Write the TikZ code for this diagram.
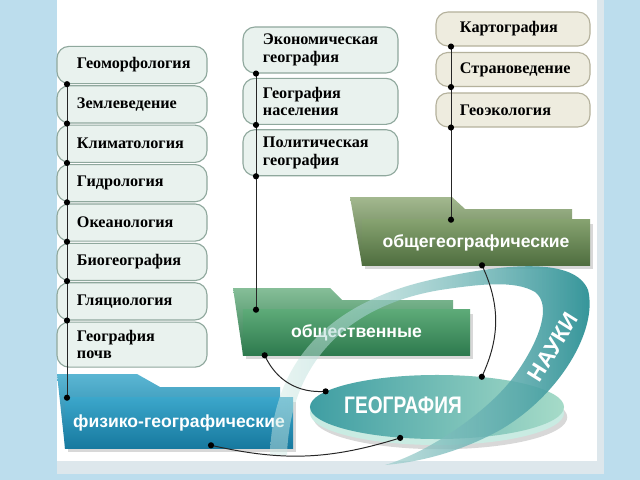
\documentclass[tikz,border=0pt]{standalone}
\usepackage{fontspec}
\setmainfont{Liberation Serif}
\newfontfamily\headsans{Liberation Sans}
\newfontfamily\narrowsans[FakeStretch=0.8]{Liberation Sans}
\usepackage{tikz}
\usetikzlibrary{positioning,shapes.geometric,shadows,fadings}
\definecolor{bandblue}{HTML}{BCDDED}
\definecolor{panelgray}{HTML}{DDE7EC}
\definecolor{mintfill}{HTML}{E9F2EE}
\definecolor{mintdraw}{HTML}{8FA89D}
\definecolor{sandfill}{HTML}{EEECDF}
\definecolor{sanddraw}{HTML}{B4B19C}
\definecolor{olivetop}{HTML}{86A270}
\definecolor{olivebot}{HTML}{4F6E3F}
\definecolor{oliveback}{HTML}{A3B88F}
\definecolor{greentop}{HTML}{5DAA78}
\definecolor{greenbot}{HTML}{2E7A4E}
\definecolor{greenback}{HTML}{86BE98}
\definecolor{bluetop}{HTML}{3BA6CA}
\definecolor{bluebot}{HTML}{17799F}
\definecolor{blueback}{HTML}{5BB6D3}
\definecolor{geoleft}{HTML}{3F9EA3}
\definecolor{georight}{HTML}{A6DBC8}
\definecolor{georim}{HTML}{C9EBE2}
\definecolor{ribbonpale}{HTML}{D3ECE6}
\definecolor{ribbondark}{HTML}{2F9297}
\tikzfading[name=ribbonfade, left color=transparent!55, right color=transparent!0]
\tikzset{
    topic/.style={
        rectangle,
        rounded corners=0.3cm,
        draw=mintdraw,
        fill=mintfill,
        line width=0.8pt,
        font=\fontsize{11.5}{12.5}\selectfont\bfseries,
        align=left,
        inner ysep=1pt
    },
    left topic/.style={topic, minimum width=3.75cm, minimum height=0.93cm, text width=2.75cm, inner xsep=0.5cm},
    mid topic/.style={topic, minimum width=3.875cm, minimum height=1.15cm, text width=2.875cm, inner xsep=0.5cm},
    right topic/.style={topic, draw=sanddraw, fill=sandfill, minimum width=3.85cm, minimum height=0.85cm, text width=2.65cm, inner xsep=0.6cm},
    folder/.style={
        rectangle,
        minimum width=5.7cm,
        minimum height=1.125cm,
        text=white,
        font=\headsans\bfseries\fontsize{12.5}{13}\selectfont,
        drop shadow={shadow xshift=2pt, shadow yshift=-3pt, opacity=0.3}
    },
    link/.style={draw=black!85, line width=0.7pt}
}

\begin{document}
\begin{tikzpicture}[x=0.025cm, y=-0.025cm]
\useasboundingbox (0,0) rectangle (640,480);
\fill[bandblue] (0,0) rectangle (640,480);
\fill[panelgray] (57,0) rectangle (604,474);
\fill[white] (57,0) rectangle (597,461);

\node (geomorf) [left topic] at (132,65) {Геоморфология};
\node (zemlev) [left topic, below=0.75pt of geomorf] {Землеведение};
\node (klimat) [left topic, below=0.75pt of zemlev] {Климатология};
\node (gidro) [left topic, below=0.75pt of klimat] {Гидрология};
\node (okean) [left topic, below=0.75pt of gidro] {Океанология};
\node (biogeo) [left topic, below=0.75pt of okean] {Биогеография};
\node (glyac) [left topic, below=0.75pt of biogeo] {Гляциология};
\node (pochv) [left topic, below=0.75pt of glyac, minimum height=1.125cm] {География\\почв};

\node (ekon) [mid topic] at (320.5,50) {Экономическая\\география};
\node (naselen) [mid topic, below=3pt of ekon] {География\\населения};
\node (polit) [mid topic, below=3pt of naselen] {Политическая\\география};

\node (kart) [right topic] at (513,29) {Картография};
\node (stran) [right topic, below=3.8pt of kart] {Страноведение};
\node (geoekol) [right topic, below=3.8pt of stran] {Геоэкология};

\shade[top color=oliveback, bottom color=olivebot] (350,197) -- (452,197) -- (465,209) -- (572,209) -- (572,222) -- (362,222) -- (362,265) -- cycle;
\shade[top color=greenback, bottom color=greenbot] (233,288) -- (330,288) -- (342,300) -- (453,300) -- (453,312) -- (243,312) -- (243,355) -- cycle;
\shade[top color=blueback, bottom color=bluebot] (57,374) -- (137,374) -- (160,387) -- (280,387) -- (280,400) -- (65,400) -- (65,448) -- cycle;

\node (obshgeo) [folder, top color=olivetop, bottom color=olivebot] at (476,242.5) {общегеографические};
\node (obsch) [folder, top color=greentop, bottom color=greenbot, minimum width=5.675cm] at (356.5,332.5) {общественные};
\node (fizik) [folder, top color=bluetop, bottom color=bluebot, minimum height=1.25cm] at (179,423) {физико-географические};

\node (geobase) [ellipse, fill=georim, minimum width=6.35cm, minimum height=1.6cm, drop shadow={shadow yshift=-3pt, opacity=0.3}] at (437,413) {};
\node (geo) [ellipse, left color=geoleft, right color=georight, minimum width=6.35cm, minimum height=1.6cm] at (437,407) {};

\shade[left color=ribbonpale, right color=ribbondark, path fading=ribbonfade]
    (270,455) .. controls (272,370) and (320,305) .. (430,280)
    .. controls (510,262) and (575,258) .. (588,290)
    .. controls (598,330) and (560,395) .. (500,430)
    .. controls (460,452) and (420,462) .. (385,465)
    .. controls (430,452) and (490,410) .. (515,375)
    .. controls (540,340) and (552,305) .. (535,292)
    .. controls (515,280) and (480,284) .. (440,290)
    .. controls (350,305) and (290,360) .. (287,455) -- cycle;

\node (geolabel) [text=white, font=\narrowsans\bfseries\fontsize{17}{17}\selectfont] at (403,405) {ГЕОГРАФИЯ};
\node (nauki) [text=white, rotate=58, font=\headsans\bfseries\fontsize{16}{16}\selectfont] at (553,347) {НАУКИ};

\coordinate (leftrail) at (67,0);
\coordinate (midrail) at (256,0);
\coordinate (rightrail) at (451,0);
\draw[link] (geomorf.south -| leftrail) -- (fizik.north -| leftrail);
\draw[link] (ekon.south -| midrail) -- (obsch.north -| midrail);
\draw[link] (kart.south -| rightrail) -- (obshgeo.north -| rightrail);
\foreach \n in {geomorf,zemlev,klimat,gidro,okean,biogeo,glyac}
    \fill (\n.south -| leftrail) circle (2.2pt);
\foreach \n in {ekon,naselen,polit}
    \fill (\n.south -| midrail) circle (2.2pt);
\foreach \n in {kart,stran,geoekol}
    \fill (\n.south -| rightrail) circle (2.2pt);
\fill (fizik.north -| leftrail) circle (2.2pt);
\fill (obsch.north -| midrail) circle (2.2pt);
\fill (obshgeo.north -| rightrail) circle (2.2pt);

\coordinate (obschfoot) at ([xshift=0.55cm]obsch.south west);
\coordinate (obshgeofoot) at ([xshift=0.15cm]obshgeo.south);
\coordinate (fizikfoot) at ([xshift=0.8cm, yshift=0.075cm]fizik.south);
\draw[link] (obschfoot) to[bend right=35] (geo.172);
\draw[link] (obshgeofoot) to[bend left=25] (geo.34);
\draw[link] (fizikfoot) to[bend right=15] (geo.220);
\foreach \p in {obschfoot, obshgeofoot, fizikfoot, geo.172, geo.34, geo.220}
    \fill (\p) circle (2.2pt);
\end{tikzpicture}
\end{document}
